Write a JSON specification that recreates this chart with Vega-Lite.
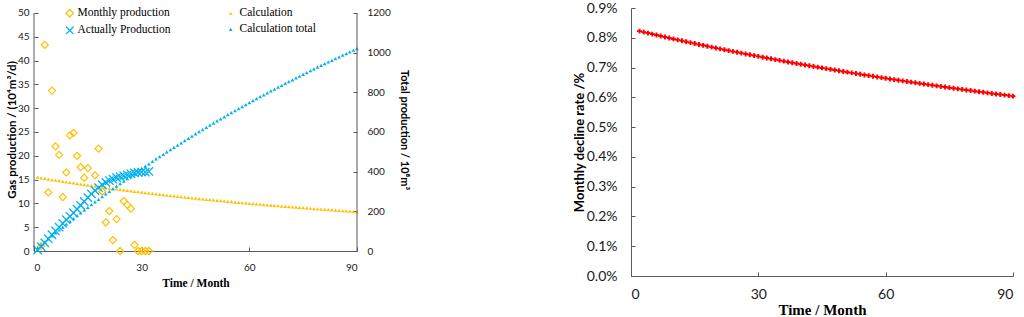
{
  "$schema": "https://vega.github.io/schema/vega-lite/v6.json",
  "padding": {"left": 6, "top": 1, "right": 0, "bottom": 0},
  "background": "white",
  "spacing": 274,
  "bounds": "flush",
  "config": {
    "view": {"stroke": null},
    "axis": {
      "grid": false,
      "labelFont": "Lato",
      "labelColor": "#1a1a1a",
      "domainColor": "#595959",
      "tickColor": "#595959",
      "titleColor": "#000000",
      "titleFontWeight": "bold",
      "labelOverlap": false
    }
  },
  "datasets": {
    "prod": [
      {"t": 2, "v": 1.0}, {"t": 3, "v": 43.3}, {"t": 4, "v": 12.3}, {"t": 5, "v": 33.7},
      {"t": 6, "v": 22.0}, {"t": 7, "v": 20.2}, {"t": 8, "v": 11.3}, {"t": 9, "v": 16.5},
      {"t": 10, "v": 24.3}, {"t": 11, "v": 24.8}, {"t": 12, "v": 20.0}, {"t": 13, "v": 17.6},
      {"t": 14, "v": 15.4}, {"t": 15, "v": 17.4}, {"t": 17, "v": 15.9}, {"t": 18, "v": 21.5},
      {"t": 19, "v": 12.5}, {"t": 20, "v": 6.0}, {"t": 21, "v": 8.4}, {"t": 22, "v": 2.3},
      {"t": 23, "v": 6.7}, {"t": 24, "v": 0}, {"t": 25, "v": 10.5}, {"t": 26, "v": 9.7},
      {"t": 27, "v": 8.9}, {"t": 28, "v": 1.3}, {"t": 29, "v": 0}, {"t": 30, "v": 0},
      {"t": 31, "v": 0}, {"t": 32, "v": 0}
    ],
    "actual": [
      {"t": 1, "Q": 5}, {"t": 2, "Q": 22}, {"t": 3, "Q": 41}, {"t": 4, "Q": 62},
      {"t": 5, "Q": 82}, {"t": 6, "Q": 101}, {"t": 7, "Q": 120}, {"t": 8, "Q": 139},
      {"t": 9, "Q": 158}, {"t": 10, "Q": 175}, {"t": 11, "Q": 192}, {"t": 12, "Q": 211},
      {"t": 13, "Q": 230}, {"t": 14, "Q": 250}, {"t": 15, "Q": 269}, {"t": 16, "Q": 288},
      {"t": 17, "Q": 305}, {"t": 18, "Q": 319}, {"t": 19, "Q": 334}, {"t": 20, "Q": 346},
      {"t": 21, "Q": 355}, {"t": 22, "Q": 362}, {"t": 23, "Q": 370}, {"t": 24, "Q": 374},
      {"t": 25, "Q": 379}, {"t": 26, "Q": 384}, {"t": 27, "Q": 389}, {"t": 28, "Q": 394},
      {"t": 29, "Q": 396}, {"t": 30, "Q": 398}, {"t": 31, "Q": 398}, {"t": 32, "Q": 401}
    ],
    "calc": [
      {"t": 1, "q": 15.50, "Q": 15.5}, {"t": 2, "q": 15.37, "Q": 30.9}, {"t": 3, "q": 15.25, "Q": 46.1},
      {"t": 4, "q": 15.12, "Q": 61.2}, {"t": 5, "q": 15.00, "Q": 76.2}, {"t": 6, "q": 14.88, "Q": 91.1},
      {"t": 7, "q": 14.76, "Q": 105.9}, {"t": 8, "q": 14.64, "Q": 120.5}, {"t": 9, "q": 14.53, "Q": 135.1},
      {"t": 10, "q": 14.41, "Q": 149.5}, {"t": 11, "q": 14.30, "Q": 163.8}, {"t": 12, "q": 14.18, "Q": 177.9},
      {"t": 13, "q": 14.07, "Q": 192.0}, {"t": 14, "q": 13.96, "Q": 206.0}, {"t": 15, "q": 13.85, "Q": 219.8},
      {"t": 16, "q": 13.75, "Q": 233.6}, {"t": 17, "q": 13.64, "Q": 247.2}, {"t": 18, "q": 13.53, "Q": 260.7},
      {"t": 19, "q": 13.43, "Q": 274.2}, {"t": 20, "q": 13.33, "Q": 287.5}, {"t": 21, "q": 13.23, "Q": 300.7},
      {"t": 22, "q": 13.13, "Q": 313.8}, {"t": 23, "q": 13.03, "Q": 326.9}, {"t": 24, "q": 12.93, "Q": 339.8},
      {"t": 25, "q": 12.83, "Q": 352.6}, {"t": 26, "q": 12.74, "Q": 365.4}, {"t": 27, "q": 12.64, "Q": 378.0},
      {"t": 28, "q": 12.55, "Q": 390.6}, {"t": 29, "q": 12.45, "Q": 403.0}, {"t": 30, "q": 12.36, "Q": 415.4},
      {"t": 31, "q": 12.27, "Q": 427.6}, {"t": 32, "q": 12.18, "Q": 439.8}, {"t": 33, "q": 12.09, "Q": 451.9},
      {"t": 34, "q": 12.01, "Q": 463.9}, {"t": 35, "q": 11.92, "Q": 475.8}, {"t": 36, "q": 11.83, "Q": 487.7},
      {"t": 37, "q": 11.75, "Q": 499.4}, {"t": 38, "q": 11.66, "Q": 511.1}, {"t": 39, "q": 11.58, "Q": 522.7},
      {"t": 40, "q": 11.50, "Q": 534.2}, {"t": 41, "q": 11.42, "Q": 545.6}, {"t": 42, "q": 11.34, "Q": 556.9},
      {"t": 43, "q": 11.26, "Q": 568.2}, {"t": 44, "q": 11.18, "Q": 579.4}, {"t": 45, "q": 11.10, "Q": 590.5},
      {"t": 46, "q": 11.02, "Q": 601.5}, {"t": 47, "q": 10.95, "Q": 612.4}, {"t": 48, "q": 10.87, "Q": 623.3},
      {"t": 49, "q": 10.80, "Q": 634.1}, {"t": 50, "q": 10.72, "Q": 644.8}, {"t": 51, "q": 10.65, "Q": 655.5},
      {"t": 52, "q": 10.58, "Q": 666.1}, {"t": 53, "q": 10.51, "Q": 676.6}, {"t": 54, "q": 10.43, "Q": 687.0},
      {"t": 55, "q": 10.36, "Q": 697.4}, {"t": 56, "q": 10.29, "Q": 707.7}, {"t": 57, "q": 10.23, "Q": 717.9},
      {"t": 58, "q": 10.16, "Q": 728.0}, {"t": 59, "q": 10.09, "Q": 738.1}, {"t": 60, "q": 10.02, "Q": 748.1},
      {"t": 61, "q": 9.96, "Q": 758.1}, {"t": 62, "q": 9.89, "Q": 768.0}, {"t": 63, "q": 9.83, "Q": 777.8},
      {"t": 64, "q": 9.76, "Q": 787.6}, {"t": 65, "q": 9.70, "Q": 797.3}, {"t": 66, "q": 9.64, "Q": 806.9},
      {"t": 67, "q": 9.57, "Q": 816.5}, {"t": 68, "q": 9.51, "Q": 826.0}, {"t": 69, "q": 9.45, "Q": 835.4},
      {"t": 70, "q": 9.39, "Q": 844.8}, {"t": 71, "q": 9.33, "Q": 854.2}, {"t": 72, "q": 9.27, "Q": 863.4},
      {"t": 73, "q": 9.21, "Q": 872.6}, {"t": 74, "q": 9.15, "Q": 881.8}, {"t": 75, "q": 9.09, "Q": 890.9},
      {"t": 76, "q": 9.04, "Q": 899.9}, {"t": 77, "q": 8.98, "Q": 908.9}, {"t": 78, "q": 8.92, "Q": 917.8},
      {"t": 79, "q": 8.87, "Q": 926.7}, {"t": 80, "q": 8.81, "Q": 935.5}, {"t": 81, "q": 8.76, "Q": 944.3},
      {"t": 82, "q": 8.71, "Q": 953.0}, {"t": 83, "q": 8.65, "Q": 961.6}, {"t": 84, "q": 8.60, "Q": 970.2},
      {"t": 85, "q": 8.55, "Q": 978.8}, {"t": 86, "q": 8.49, "Q": 987.3}, {"t": 87, "q": 8.44, "Q": 995.7},
      {"t": 88, "q": 8.39, "Q": 1004.1}, {"t": 89, "q": 8.34, "Q": 1012.4}, {"t": 90, "q": 8.29, "Q": 1020.7}
    ],
    "decline": [
      {"t": 2, "d": 0.008224}, {"t": 3, "d": 0.008190}, {"t": 4, "d": 0.008157}, {"t": 5, "d": 0.008124},
      {"t": 6, "d": 0.008091}, {"t": 7, "d": 0.008058}, {"t": 8, "d": 0.008026}, {"t": 9, "d": 0.007994},
      {"t": 10, "d": 0.007962}, {"t": 11, "d": 0.007930}, {"t": 12, "d": 0.007899}, {"t": 13, "d": 0.007868},
      {"t": 14, "d": 0.007837}, {"t": 15, "d": 0.007806}, {"t": 16, "d": 0.007776}, {"t": 17, "d": 0.007746},
      {"t": 18, "d": 0.007716}, {"t": 19, "d": 0.007686}, {"t": 20, "d": 0.007657}, {"t": 21, "d": 0.007628},
      {"t": 22, "d": 0.007599}, {"t": 23, "d": 0.007570}, {"t": 24, "d": 0.007542}, {"t": 25, "d": 0.007513},
      {"t": 26, "d": 0.007485}, {"t": 27, "d": 0.007457}, {"t": 28, "d": 0.007429}, {"t": 29, "d": 0.007402},
      {"t": 30, "d": 0.007375}, {"t": 31, "d": 0.007348}, {"t": 32, "d": 0.007321}, {"t": 33, "d": 0.007294},
      {"t": 34, "d": 0.007267}, {"t": 35, "d": 0.007241}, {"t": 36, "d": 0.007215}, {"t": 37, "d": 0.007189},
      {"t": 38, "d": 0.007163}, {"t": 39, "d": 0.007138}, {"t": 40, "d": 0.007112}, {"t": 41, "d": 0.007087},
      {"t": 42, "d": 0.007062}, {"t": 43, "d": 0.007037}, {"t": 44, "d": 0.007013}, {"t": 45, "d": 0.006988},
      {"t": 46, "d": 0.006964}, {"t": 47, "d": 0.006940}, {"t": 48, "d": 0.006916}, {"t": 49, "d": 0.006892},
      {"t": 50, "d": 0.006868}, {"t": 51, "d": 0.006845}, {"t": 52, "d": 0.006821}, {"t": 53, "d": 0.006798},
      {"t": 54, "d": 0.006775}, {"t": 55, "d": 0.006752}, {"t": 56, "d": 0.006730}, {"t": 57, "d": 0.006707},
      {"t": 58, "d": 0.006685}, {"t": 59, "d": 0.006662}, {"t": 60, "d": 0.006640}, {"t": 61, "d": 0.006618},
      {"t": 62, "d": 0.006596}, {"t": 63, "d": 0.006575}, {"t": 64, "d": 0.006553}, {"t": 65, "d": 0.006532},
      {"t": 66, "d": 0.006510}, {"t": 67, "d": 0.006489}, {"t": 68, "d": 0.006468}, {"t": 69, "d": 0.006447},
      {"t": 70, "d": 0.006427}, {"t": 71, "d": 0.006406}, {"t": 72, "d": 0.006386}, {"t": 73, "d": 0.006365},
      {"t": 74, "d": 0.006345}, {"t": 75, "d": 0.006325}, {"t": 76, "d": 0.006305}, {"t": 77, "d": 0.006285},
      {"t": 78, "d": 0.006266}, {"t": 79, "d": 0.006246}, {"t": 80, "d": 0.006227}, {"t": 81, "d": 0.006207},
      {"t": 82, "d": 0.006188}, {"t": 83, "d": 0.006169}, {"t": 84, "d": 0.006150}, {"t": 85, "d": 0.006131},
      {"t": 86, "d": 0.006112}, {"t": 87, "d": 0.006094}, {"t": 88, "d": 0.006075}, {"t": 89, "d": 0.006057},
      {"t": 90, "d": 0.006039}
    ],
    "frame": [
      {"t": 0, "lo": 0, "hi": 50},
      {"t": 90, "lo": 0, "hi": 50}
    ]
  },
  "hconcat": [
    {
      "width": 323,
      "height": 243,
      "layer": [
        {
          "layer": [
            {
              "data": {"name": "prod"},
              "mark": {"type": "point", "filled": false, "strokeWidth": 1.2, "size": 50, "opacity": 1},
              "encoding": {
                "x": {
                  "field": "t", "type": "quantitative",
                  "scale": {"domain": [0, 90], "nice": false},
                  "axis": {
                    "values": [0, 30, 60, 90], "title": "Time / Month",
                    "titleFont": "Liberation Serif", "titleFontSize": 11.5, "titlePadding": 5,
                    "labelFontSize": 10, "tickSize": -4, "labelPadding": 15
                  }
                },
                "y": {
                  "field": "v", "type": "quantitative",
                  "scale": {"domain": [0, 51.05], "nice": false},
                  "axis": {
                    "values": [0, 5, 10, 15, 20, 25, 30, 35, 40, 45, 50],
                    "tickCount": 11, "labelOverlap": false, "labelSeparation": 0,
                    "domain": false, "title": "Gas production / (10⁴m³/d)",
                    "titleFont": "Lato", "titleFontSize": 11.5, "titlePadding": 0,
                    "labelFontSize": 10, "tickSize": -4, "labelPadding": 9
                  }
                },
                "stroke": {
                  "datum": "Monthly production",
                  "scale": {"domain": ["Monthly production", "Actually Production"], "range": ["#FFC000", "#00B0F0"]},
                  "legend": {
                    "title": null, "orient": "none", "legendX": 30, "legendY": -0.5,
                    "rowPadding": 3.2, "padding": 0,
                    "labelFont": "Liberation Serif", "labelFontSize": 11.5, "labelColor": "#000000",
                    "labelOffset": 2, "symbolSize": 55, "symbolStrokeWidth": 1.3
                  }
                },
                "shape": {
                  "datum": "Monthly production",
                  "scale": {"domain": ["Monthly production", "Actually Production"], "range": ["diamond", "M-1,-1L1,1M-1,1L1,-1"]},
                  "legend": {
                    "title": null, "orient": "none", "legendX": 30, "legendY": -0.5,
                    "rowPadding": 3.2, "padding": 0,
                    "labelFont": "Liberation Serif", "labelFontSize": 11.5, "labelColor": "#000000",
                    "labelOffset": 2, "symbolSize": 55, "symbolStrokeWidth": 1.3
                  }
                }
              }
            },
            {
              "data": {"name": "calc"},
              "mark": {"type": "point", "filled": true, "shape": "triangle-up", "size": 14, "opacity": 1},
              "encoding": {
                "x": {"field": "t", "type": "quantitative"},
                "y": {
                  "field": "q", "type": "quantitative",
                  "axis": {
                    "values": [0, 5, 10, 15, 20, 25, 30, 35, 40, 45, 50],
                    "tickCount": 11, "labelOverlap": false, "labelSeparation": 0,
                    "domain": false, "title": "Gas production / (10⁴m³/d)",
                    "titleFont": "Lato", "titleFontSize": 11.5, "titlePadding": 0,
                    "labelFontSize": 10, "tickSize": -4, "labelPadding": 9
                  }
                },
                "fill": {
                  "datum": "Calculation",
                  "scale": {"domain": ["Calculation", "Calculation total"], "range": ["#FFC000", "#00B0F0"]},
                  "legend": {
                    "title": null, "orient": "none", "legendX": 191, "legendY": -0.5,
                    "rowPadding": 3.2, "padding": 0,
                    "labelFont": "Liberation Serif", "labelFontSize": 11.5, "labelColor": "#000000",
                    "labelOffset": 3, "symbolType": "triangle-up", "symbolSize": 14, "symbolStrokeWidth": 0
                  }
                }
              }
            }
          ]
        },
        {
          "layer": [
            {
              "data": {"name": "actual"},
              "mark": {"type": "point", "filled": false, "strokeWidth": 1.3, "size": 70, "opacity": 1},
              "encoding": {
                "x": {"field": "t", "type": "quantitative"},
                "y": {
                  "field": "Q", "type": "quantitative",
                  "scale": {"domain": [0, 1225.2], "nice": false},
                  "axis": {
                    "orient": "right", "format": "d",
                    "values": [0, 200, 400, 600, 800, 1000, 1200], "labelOverlap": false,
                    "domain": false, "title": "Total production / 10⁸m³",
                    "titleFont": "Lato", "titleFontSize": 11, "titlePadding": 8,
                    "labelFontSize": 10, "tickSize": -4, "labelPadding": 14
                  }
                },
                "stroke": {"datum": "Actually Production"},
                "shape": {"datum": "Actually Production"}
              }
            },
            {
              "data": {"name": "calc"},
              "mark": {"type": "point", "filled": true, "shape": "triangle-up", "size": 14, "opacity": 1},
              "encoding": {
                "x": {"field": "t", "type": "quantitative"},
                "y": {"field": "Q", "type": "quantitative"},
                "fill": {"datum": "Calculation total"}
              }
            }
          ]
        },
        {
          "data": {"name": "frame"},
          "mark": {"type": "rule", "color": "#595959", "strokeWidth": 1},
          "encoding": {
            "x": {"field": "t", "type": "quantitative"},
            "y": {"field": "lo", "type": "quantitative", "scale": {"domain": [0, 51.05], "nice": false}, "axis": null},
            "y2": {"field": "hi"}
          }
        }
      ],
      "resolve": {"scale": {"y": "independent"}}
    },
    {
      "width": 382,
      "height": 268,
      "data": {"name": "decline"},
      "mark": {"type": "point", "shape": "cross", "filled": true, "color": "#FF0000", "size": 24, "opacity": 1},
      "encoding": {
        "x": {
          "field": "t", "type": "quantitative",
          "scale": {"domain": [0, 90], "nice": false},
          "axis": {
            "values": [0, 30, 60, 90], "title": "Time / Month",
            "titleFont": "Liberation Serif", "titleFontSize": 15, "titlePadding": 1,
            "labelFontSize": 14, "tickSize": -4, "labelPadding": 15
          }
        },
        "y": {
          "field": "d", "type": "quantitative",
          "scale": {"domain": [0, 0.009], "nice": false},
          "axis": {
            "values": [0, 0.001, 0.002, 0.003, 0.004, 0.005, 0.006, 0.007, 0.008, 0.009],
            "format": ".1%", "title": "Monthly decline rate /%",
            "titleFont": "Lato", "titleFontSize": 13, "titlePadding": 0,
            "labelFontSize": 14, "tickSize": -4, "labelPadding": 18
          }
        }
      }
    }
  ]
}
